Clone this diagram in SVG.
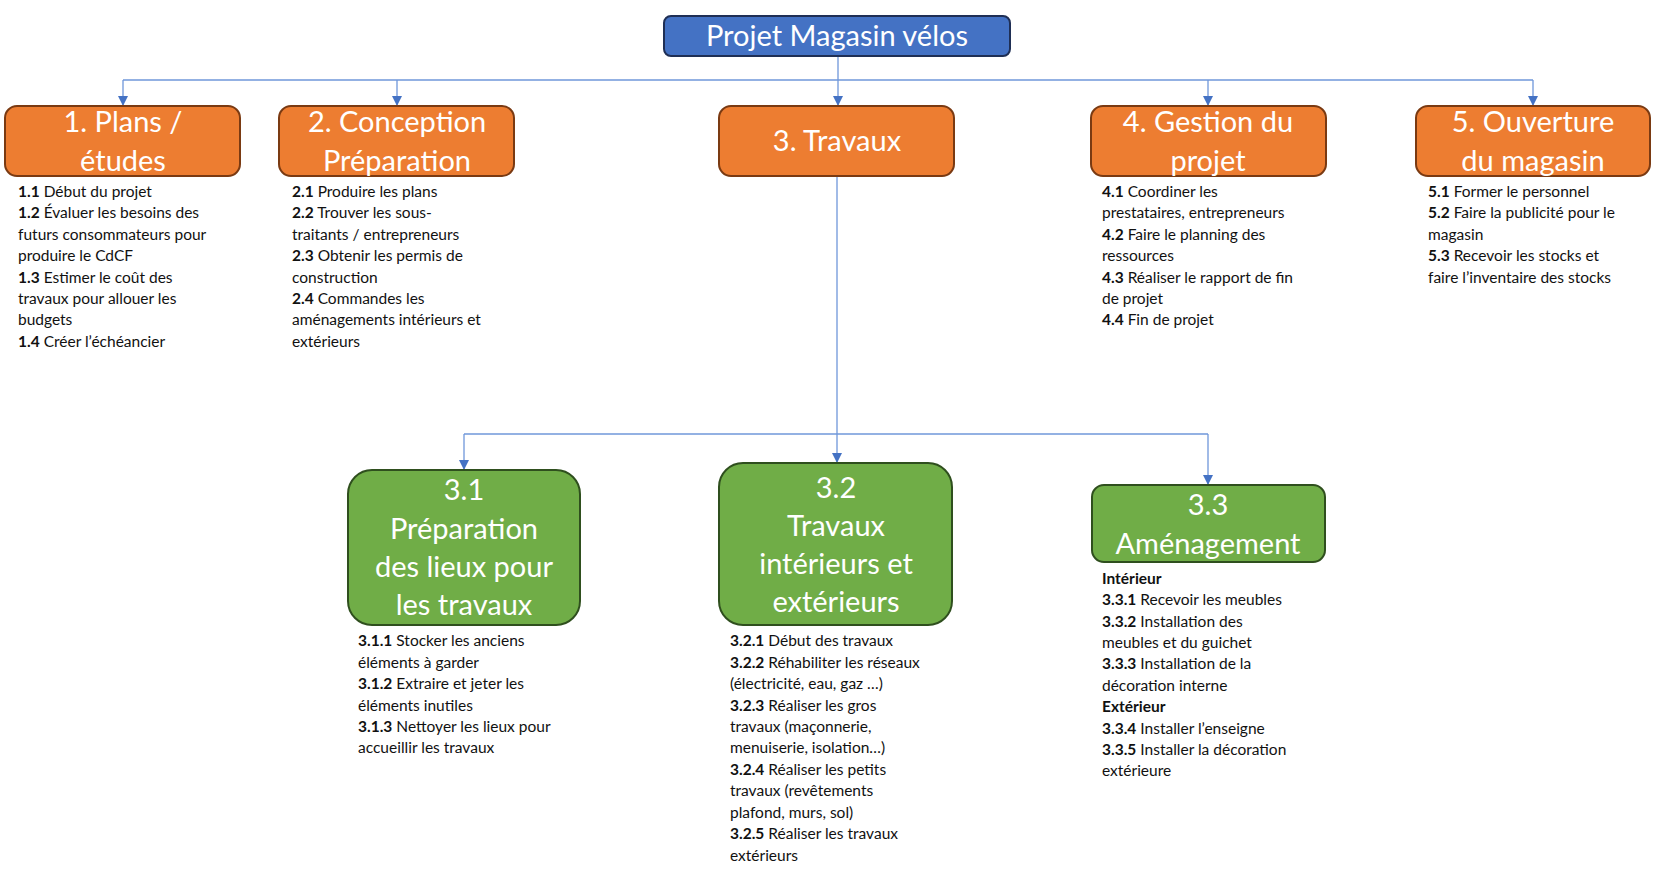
<svg xmlns="http://www.w3.org/2000/svg" width="1654" height="873" viewBox="0 0 1654 873">
<defs>
<marker id="ar" markerWidth="10" markerHeight="10" refX="9" refY="5" orient="auto" markerUnits="userSpaceOnUse"><path d="M0,0 L10,5 L0,10 z" fill="#4472C4"/></marker>
<style>
.o{fill:#ED7D31;stroke:#7A3A12;stroke-width:2}
.g{fill:#70AD47;stroke:#2F4F1E;stroke-width:2}
.b{fill:#4472C4;stroke:#1F2F55;stroke-width:2}
.t{font-family:Lato,"Open Sans",sans-serif;fill:#fff;font-size:29px;text-anchor:middle}
.l{font-family:Lato,"Open Sans",sans-serif;fill:#111;font-size:15.5px}
.l tspan.k{font-weight:bold}
.c{fill:none;stroke:#6F97DA;stroke-width:1.3}
</style>
</defs>
<rect width="1654" height="873" fill="#fff"/>
<g id="connectors">
<path class="c" d="M838,56 V80"/>
<path class="c" d="M123,80 H1533"/>
<path class="c" d="M123,80 V105" marker-end="url(#ar)"/>
<path class="c" d="M397,80 V105" marker-end="url(#ar)"/>
<path class="c" d="M838,80 V105" marker-end="url(#ar)"/>
<path class="c" d="M1208,80 V105" marker-end="url(#ar)"/>
<path class="c" d="M1533,80 V105" marker-end="url(#ar)"/>
<path class="c" d="M837,176 V462" marker-end="url(#ar)"/>
<path class="c" d="M464,434 H1208"/>
<path class="c" d="M464,434 V469" marker-end="url(#ar)"/>
<path class="c" d="M1208,434 V484" marker-end="url(#ar)"/>
</g>
<g id="root"><rect class="b" x="664" y="16" width="346" height="40" rx="7"/><text class="t" x="837" y="46">Projet Magasin vélos</text></g>
<g id="n1"><rect class="o" x="5" y="106" width="235" height="70" rx="12"/><text class="t"><tspan x="123" y="132">1. Plans /</tspan><tspan x="123" y="171">études</tspan></text>
<text class="l"><tspan x="18" y="197"><tspan class="k">1.1</tspan> Début du projet</tspan><tspan x="18" y="218"><tspan class="k">1.2</tspan> Évaluer les besoins des</tspan><tspan x="18" y="240">futurs consommateurs pour</tspan><tspan x="18" y="261">produire le CdCF</tspan><tspan x="18" y="283"><tspan class="k">1.3</tspan> Estimer le coût des</tspan><tspan x="18" y="304">travaux pour allouer les</tspan><tspan x="18" y="325">budgets</tspan><tspan x="18" y="347"><tspan class="k">1.4</tspan> Créer l’échéancier</tspan></text></g>
<g id="n2"><rect class="o" x="279" y="106" width="235" height="70" rx="12"/><text class="t"><tspan x="397" y="132">2. Conception</tspan><tspan x="397" y="171">Préparation</tspan></text>
<text class="l"><tspan x="292" y="197"><tspan class="k">2.1</tspan> Produire les plans</tspan><tspan x="292" y="218"><tspan class="k">2.2</tspan> Trouver les sous-</tspan><tspan x="292" y="240">traitants / entrepreneurs</tspan><tspan x="292" y="261"><tspan class="k">2.3</tspan> Obtenir les permis de</tspan><tspan x="292" y="283">construction</tspan><tspan x="292" y="304"><tspan class="k">2.4</tspan> Commandes les</tspan><tspan x="292" y="325">aménagements intérieurs et</tspan><tspan x="292" y="347">extérieurs</tspan></text></g>
<g id="n3"><rect class="o" x="719" y="106" width="235" height="70" rx="12"/><text class="t" x="837" y="151">3. Travaux</text></g>
<g id="n4"><rect class="o" x="1091" y="106" width="235" height="70" rx="12"/><text class="t"><tspan x="1208" y="132">4. Gestion du</tspan><tspan x="1208" y="171">projet</tspan></text>
<text class="l"><tspan x="1102" y="197"><tspan class="k">4.1</tspan> Coordiner les</tspan><tspan x="1102" y="218">prestataires, entrepreneurs</tspan><tspan x="1102" y="240"><tspan class="k">4.2</tspan> Faire le planning des</tspan><tspan x="1102" y="261">ressources</tspan><tspan x="1102" y="283"><tspan class="k">4.3</tspan> Réaliser le rapport de fin</tspan><tspan x="1102" y="304">de projet</tspan><tspan x="1102" y="325"><tspan class="k">4.4</tspan> Fin de projet</tspan></text></g>
<g id="n5"><rect class="o" x="1416" y="106" width="234" height="70" rx="12"/><text class="t"><tspan x="1533" y="132">5. Ouverture</tspan><tspan x="1533" y="171">du magasin</tspan></text>
<text class="l"><tspan x="1428" y="197"><tspan class="k">5.1</tspan> Former le personnel</tspan><tspan x="1428" y="218"><tspan class="k">5.2</tspan> Faire la publicité pour le</tspan><tspan x="1428" y="240">magasin</tspan><tspan x="1428" y="261"><tspan class="k">5.3</tspan> Recevoir les stocks et</tspan><tspan x="1428" y="283">faire l’inventaire des stocks</tspan></text></g>
<g id="n31"><rect class="g" x="348" y="470" width="232" height="155" rx="24"/><text class="t"><tspan x="464" y="500">3.1</tspan><tspan x="464" y="539">Préparation</tspan><tspan x="464" y="577">des lieux pour</tspan><tspan x="464" y="615">les travaux</tspan></text>
<text class="l"><tspan x="358" y="646"><tspan class="k">3.1.1</tspan> Stocker les anciens</tspan><tspan x="358" y="668">éléments à garder</tspan><tspan x="358" y="689"><tspan class="k">3.1.2</tspan> Extraire et jeter les</tspan><tspan x="358" y="711">éléments inutiles</tspan><tspan x="358" y="732"><tspan class="k">3.1.3</tspan> Nettoyer les lieux pour</tspan><tspan x="358" y="753">accueillir les travaux</tspan></text></g>
<g id="n32"><rect class="g" x="719" y="463" width="233" height="162" rx="24"/><text class="t"><tspan x="836" y="498">3.2</tspan><tspan x="836" y="536">Travaux</tspan><tspan x="836" y="574">intérieurs et</tspan><tspan x="836" y="612">extérieurs</tspan></text>
<text class="l"><tspan x="730" y="646"><tspan class="k">3.2.1</tspan> Début des travaux</tspan><tspan x="730" y="668"><tspan class="k">3.2.2</tspan> Réhabiliter les réseaux</tspan><tspan x="730" y="689">(électricité, eau, gaz …)</tspan><tspan x="730" y="711"><tspan class="k">3.2.3</tspan> Réaliser les gros</tspan><tspan x="730" y="732">travaux (maçonnerie,</tspan><tspan x="730" y="753">menuiserie, isolation…)</tspan><tspan x="730" y="775"><tspan class="k">3.2.4</tspan> Réaliser les petits</tspan><tspan x="730" y="796">travaux (revêtements</tspan><tspan x="730" y="818">plafond, murs, sol)</tspan><tspan x="730" y="839"><tspan class="k">3.2.5</tspan> Réaliser les travaux</tspan><tspan x="730" y="861">extérieurs</tspan></text></g>
<g id="n33"><rect class="g" x="1092" y="485" width="233" height="77" rx="12"/><text class="t"><tspan x="1208" y="515">3.3</tspan><tspan x="1208" y="554">Aménagement</tspan></text>
<text class="l"><tspan x="1102" y="584" class="k">Intérieur</tspan><tspan x="1102" y="605"><tspan class="k">3.3.1</tspan> Recevoir les meubles</tspan><tspan x="1102" y="627"><tspan class="k">3.3.2</tspan> Installation des</tspan><tspan x="1102" y="648">meubles et du guichet</tspan><tspan x="1102" y="669"><tspan class="k">3.3.3</tspan> Installation de la</tspan><tspan x="1102" y="691">décoration interne</tspan><tspan x="1102" y="712" class="k">Extérieur</tspan><tspan x="1102" y="734"><tspan class="k">3.3.4</tspan> Installer l’enseigne</tspan><tspan x="1102" y="755"><tspan class="k">3.3.5</tspan> Installer la décoration</tspan><tspan x="1102" y="776">extérieure</tspan></text></g>
</svg>
